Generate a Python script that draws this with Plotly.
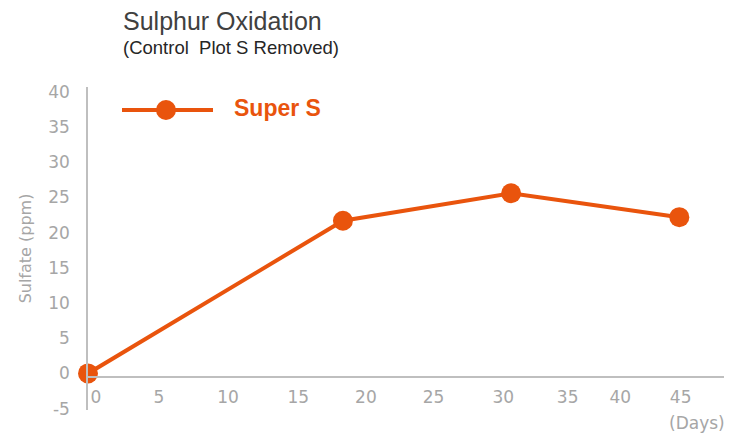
import plotly.graph_objects as go

# Data
days = [0, 19.4, 32.2, 45]
sulfate = [0, 21.7, 25.6, 22.2]
series_name = "Super S"

x_tick_labels = ["0", "5", "10", "15", "20", "25", "30", "35", "40", "45"]
x_tick_pos = [0.6, 5.4, 10.65, 16.0, 21.15, 26.3, 31.6, 36.5, 40.5, 45.1]
y_tick_vals = [-5, 0, 5, 10, 15, 20, 25, 30, 35, 40]
y_tick_labels = ["-5", "0", "5", "10", "15", "20", "25", "30", "35", "40"]

ORANGE = "#E9540D"
GREY = "#A6A6A6"
AXIS = "#BFBFBF"
FONT = "Liberation Sans, Arial, sans-serif"
TFONT = "DejaVu Sans, Verdana, sans-serif"

fig = go.Figure()
fig.add_trace(go.Scatter(
    x=days, y=sulfate, mode="lines+markers", name=series_name,
    line=dict(color=ORANGE, width=4),
    marker=dict(color=ORANGE, size=20),
    cliponaxis=False, showlegend=False,
))

# page body has an 8px default margin, so the figure is 8px smaller and shifted
fig.update_layout(
    width=732, height=427,
    margin=dict(l=80, r=16, t=79, b=25),
    paper_bgcolor="white", plot_bgcolor="white",
    font=dict(family=TFONT, color=GREY),
    xaxis=dict(
        range=[0, 48.4], tickvals=x_tick_pos, ticktext=x_tick_labels,
        showgrid=False, zeroline=False, showline=True, linecolor=AXIS, linewidth=1.5,
        anchor="free", position=0.102, ticks="", automargin=False,
        ticklabelstandoff=5,
        tickfont=dict(size=17, color=GREY, family=TFONT),
    ),
    yaxis=dict(
        range=[-5.2, 40.7], tickvals=y_tick_vals, ticktext=y_tick_labels,
        showgrid=False, zeroline=False, showline=True, linecolor=AXIS, linewidth=1.5,
        ticks="", ticklabelstandoff=13, automargin=False,
        tickfont=dict(size=17, color=GREY, family=TFONT),
        title=dict(text="Sulfate (ppm)", font=dict(size=16, color=GREY, family=TFONT), standoff=13),
    ),
)

# legend decoration
fig.add_shape(type="line", xref="paper", yref="paper",
              x0=(122 - 88) / 636, x1=(213 - 88) / 636, y0=0.9288, y1=0.9288,
              line=dict(color=ORANGE, width=4))
fig.add_shape(type="circle", xref="paper", yref="paper",
              xsizemode="pixel", ysizemode="pixel",
              xanchor=(166 - 88) / 636, yanchor=0.9288,
              x0=-10, x1=10, y0=-10, y1=10,
              fillcolor=ORANGE, line=dict(color=ORANGE, width=0))
fig.add_annotation(text="<b>" + series_name + "</b>", xref="paper", yref="paper",
                   x=(232 - 88) / 636, y=0.935, xanchor="left", yanchor="middle",
                   showarrow=False, font=dict(size=23, color=ORANGE, family=FONT))

# titles
fig.add_annotation(text="Sulphur Oxidation", xref="paper", yref="paper",
                   x=(121 - 88) / 636, y=(410 - 21) / 323, xanchor="left", yanchor="middle",
                   showarrow=False, font=dict(size=25, color="#404040", family=FONT))
fig.add_annotation(text="(Control  Plot S Removed)", xref="paper", yref="paper",
                   x=(121 - 88) / 636, y=(410 - 48) / 323, xanchor="left", yanchor="middle",
                   showarrow=False, font=dict(size=18.5, color="#262626", family=FONT))
fig.add_annotation(text="(Days)", xref="paper", yref="paper",
                   x=(697 - 88) / 636, y=(410 - 423) / 323, xanchor="center", yanchor="middle",
                   showarrow=False, font=dict(size=17, color=GREY, family=TFONT))

fig.write_html("out.html")
